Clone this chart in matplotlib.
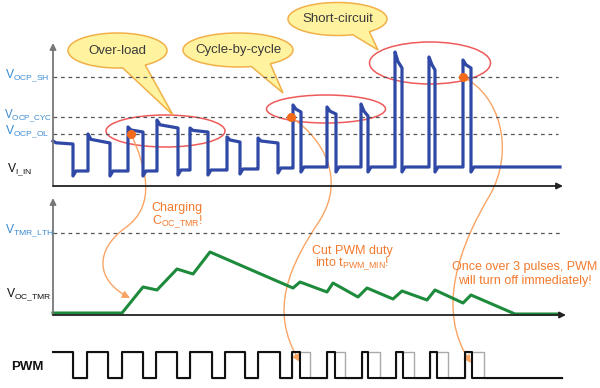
import numpy as np
import matplotlib
matplotlib.use("Agg")
import matplotlib.pyplot as plt
from matplotlib.path import Path
from matplotlib.patches import PathPatch, Ellipse, FancyArrowPatch

plt.rcParams['font.family'] = ['Liberation Sans', 'DejaVu Sans']
plt.rcParams['mathtext.fontset'] = 'custom'
plt.rcParams['mathtext.rm'] = 'Liberation Sans'
plt.rcParams['mathtext.it'] = 'Liberation Sans'
plt.rcParams['mathtext.bf'] = 'Liberation Sans:bold'

# ---- data (picture read in pixel units) ----
# V_I_IN pulses
vin_rise = [53, 88, 128, 157, 190, 227, 258, 293, 327, 361, 395, 429, 463]
vin_fall = [73, 110, 143, 178, 208, 240, 278, 301, 336, 368, 402, 435, 471]
vin_peak = [141, 134, 127, 120, 128, 137, 138, 105, 107, 104, 52, 57, 60]
vin_droop = [144, 143, 132, 128, 132, 142, 143, 112, 114, 116, 68, 70, 68]
vin_low = [171, 171, 171, 170, 170, 169, 168, 167, 167, 167, 167, 167, 167]
vin_end = 560

# threshold levels
ocp_levels = {'SH': 77, 'CYC': 117, 'OL': 134}
tmr_lth = 233

# V_OC_TMR
tmr_x = [53, 122, 143, 157, 177, 193, 210, 293, 300, 327, 333, 358, 367,
         393, 402, 427, 435, 463, 471, 515, 558]
tmr_y = [313, 313, 287, 290, 269, 274, 252, 288, 282, 292, 283, 297, 288,
         299, 291, 300, 290, 303, 295, 314, 314]

# PWM
pwm_rise = [53, 87, 122, 156, 190, 225, 258, 292, 327, 362, 396, 430, 465]
pwm_fall = [73, 108, 143, 177, 212, 245, 280, 300, 335, 368, 403, 437, 472]
pwm_ghost_fall = [73, 108, 143, 177, 212, 245, 280, 310, 345, 380, 414, 448, 484]
pwm_hi, pwm_lo, pwm_end = 352, 378, 562

# callouts: text, center, width, height, tail tip, tail gap (deg)
bubbles = [
    ("Over-load", (117.5, 50.5), 99, 35, (173, 115), (56, 84)),
    ("Cycle-by-cycle", (238, 50), 110, 34, (283, 93), (54, 76)),
    ("Short-circuit", (337.5, 19), 99, 33, (378, 50), (50, 72)),
]
rings = [((165.5, 131), 119, 32), ((326, 109), 119, 28), ((430, 63), 121, 42)]
dots_x = [131, 291, 463]
dots_y = [134, 117, 77]

BLUE = '#3049A6'
LBLUE = '#3A8BD2'
ORANGE = '#F27A2E'
LORANGE = '#F9A464'

fig = plt.figure(figsize=(6, 3.88), dpi=100)
ax = fig.add_axes([0, 0, 1, 1])
ax.set_xlim(0, 600)
ax.set_ylim(388, 0)
ax.axis('off')


def axis_arrow(x0, y0, x1, y1, color):
    ax.annotate('', xy=(x1, y1), xytext=(x0, y0),
                arrowprops=dict(arrowstyle='-|>', color=color, lw=1.3,
                                mutation_scale=9, shrinkA=0, shrinkB=0))


# axes
axis_arrow(53, 186, 53, 43, '#777777')
axis_arrow(53, 186, 563, 186, '#222222')
axis_arrow(53, 315, 53, 198, '#777777')
axis_arrow(53, 315, 566, 315, '#222222')

# dashed thresholds
for lvl in ocp_levels.values():
    ax.plot([53, 558], [lvl, lvl], color='#555555', lw=0.9, ls=(0, (3, 3)))
ax.plot([53, 560], [tmr_lth, tmr_lth], color='#555555', lw=0.9, ls=(0, (3, 3)))

# V_I_IN waveform
xs, ys = [], []
for i in range(len(vin_rise)):
    r, f, pk, dr, lo = vin_rise[i], vin_fall[i], vin_peak[i], vin_droop[i], vin_low[i]
    if i > 0:
        xs += [r]
        ys += [lo]
    xs += [r, r + 3, f, f, f + 3]
    ys += [pk, pk + (dr - pk) * 0.6, dr, lo + 5, lo]
    nxt = vin_rise[i + 1] if i + 1 < len(vin_rise) else vin_end
    xs += [nxt]
    ys += [lo]
ax.plot(xs, ys, color=BLUE, lw=2.3, solid_joinstyle='round')

# V_OC_TMR
ax.plot(tmr_x, tmr_y, color='#1E8A3C', lw=2.2, solid_joinstyle='round')


# PWM
def pwm_trace(falls):
    px, py = [pwm_rise[0]], [pwm_hi]
    for i in range(len(pwm_rise)):
        if i > 0:
            px += [pwm_rise[i], pwm_rise[i]]
            py += [pwm_lo, pwm_hi]
        px += [falls[i], falls[i]]
        py += [pwm_hi, pwm_lo]
    px += [pwm_end]
    py += [pwm_lo]
    return px, py


gx, gy = pwm_trace(pwm_ghost_fall)
ax.plot(gx, gy, color='#AAAAAA', lw=1.0)
bx, by = pwm_trace(pwm_fall)
ax.plot(bx, by, color='#111111', lw=1.5)

# red rings
for (c, w, h) in rings:
    ax.add_patch(Ellipse(c, w, h, fill=False, ec='#EE5A5A', lw=1.1))

# speech bubbles
for text, (cx, cy), w, h, tip, (g1, g2) in bubbles:
    a, b = w / 2, h / 2
    t = np.radians(np.linspace(g2, g1 + 360, 200))
    verts = list(zip(cx + a * np.cos(t), cy + b * np.sin(t))) + [tip]
    verts.append(verts[0])
    codes = [Path.MOVETO] + [Path.LINETO] * (len(verts) - 2) + [Path.CLOSEPOLY]
    ax.add_patch(PathPatch(Path(verts, codes), fc='#FFF3A0', ec='#F2B048', lw=1.1))
    ax.text(cx, cy, text, ha='center', va='center', fontsize=9.5, color='#3A3A3A')

# orange callout curves
curves = [
    [(131, 134), (145, 165), (158, 205), (125, 228), (95, 250), (95, 280), (130, 298)],
    [(291, 117), (325, 140), (345, 180), (320, 220), (290, 265), (268, 310), (300, 362)],
    [(463, 77), (500, 95), (515, 150), (490, 195), (460, 245), (435, 310), (471, 363)],
]
for pts in curves:
    codes = [Path.MOVETO] + [Path.CURVE4] * 6
    ax.add_patch(FancyArrowPatch(path=Path(pts, codes), arrowstyle='-|>',
                                 mutation_scale=11, color=LORANGE, lw=1.0))
ax.plot(dots_x, dots_y, 'o', color='#F26A1A', ms=5.5)

# labels
lab = dict(fontsize=8.7, va='center', ha='left')
ax.text(5, 76, r'V$_{\mathrm{OCP\_SH}}$', color=LBLUE, **lab)
ax.text(4, 116, r'V$_{\mathrm{OCP\_CYC}}$', color=LBLUE, fontsize=8.3, va='center', ha='left')
ax.text(5, 132, r'V$_{\mathrm{OCP\_OL}}$', color=LBLUE, **lab)
ax.text(7, 170, r'V$_{\mathrm{I\_IN}}$', color='#111111', **lab)
ax.text(5, 231, r'V$_{\mathrm{TMR\_LTH}}$', color=LBLUE, **lab)
ax.text(6, 295, r'V$_{\mathrm{OC\_TMR}}$', color='#111111', **lab)
ax.text(11, 367, 'PWM', fontsize=9.5, fontweight='bold', va='center', ha='left', color='#111111')

note = dict(fontsize=9, color=ORANGE, ha='center', va='center')
ax.text(177, 208, 'Charging', **note)
ax.text(177, 222, r'C$_{\mathrm{OC\_TMR}}$!', **note)
ax.text(352, 251, 'Cut PWM duty', **note)
ax.text(352, 264, r'into t$_{\mathrm{PWM\_MIN}}$!', **note)
ax.text(525, 267, 'Once over 3 pulses, PWM', **note)
ax.text(525, 281, 'will turn off immediately!', **note)

fig.savefig('out.png', dpi=100)
